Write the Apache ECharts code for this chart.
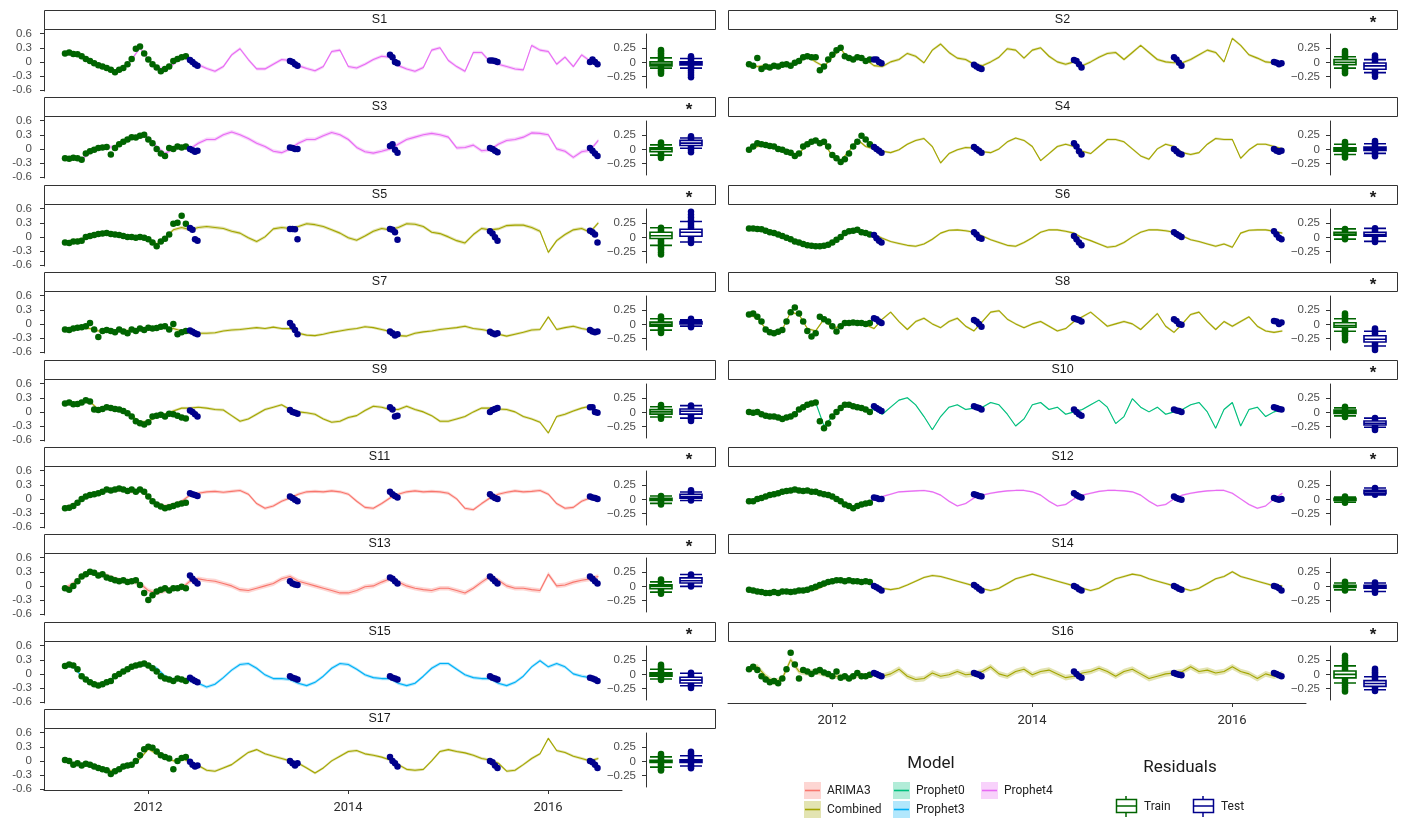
<!DOCTYPE html>
<html>
<head>
<meta charset="utf-8">
<script src="https://cdn.jsdelivr.net/npm/echarts@6/dist/echarts.min.js"></script>
<style>
  html, body { margin: 0; padding: 0; background: #ffffff; }
  #chart { width: 1405px; height: 819px; }
</style>
</head>
<body>
<div id="chart"></div>
<script>
// ---- time grids ------------------------------------------------------------
const FIT_START = 2011.17, FIT_STEP = 1 / 12;     // fitted curves: monthly
const TRAIN_START = 2011.17, TRAIN_STEP = 1 / 24; // training observations
const TEST_WINDOWS = [2012.42, 2013.42, 2014.42, 2015.42, 2016.42];
const TEST_OFFSETS = [0, 0.025, 0.05, 0.075];
const X_TICKS = [2012, 2014, 2016];
const Y_TICKS = [-0.6, -0.3, 0, 0.3, 0.6];
const RES_TICKS = [-0.25, 0, 0.25];

const panelNames = ['S1','S2','S3','S4','S5','S6','S7','S8','S9','S10','S11','S12','S13','S14','S15','S16','S17'];
const panelModels = ['Prophet4','Combined','Prophet4','Combined','Combined','Combined','Combined','Combined','Combined',
  'Prophet0','ARIMA3','Prophet4','ARIMA3','Combined','Prophet3','Combined','Combined'];
const panelStars = [false,true,true,false,true,true,false,true,false,true,true,true,true,false,true,true,false];
const bandHalfWidths = [0.035,0.03,0.04,0.025,0.035,0.025,0.03,0.025,0.03,0.015,0.035,0.02,0.05,0.025,0.035,0.06,0.03];

const modelNames = ['ARIMA3','Combined','Prophet0','Prophet3','Prophet4'];

// ---- fitted values (monthly) ----------------------------------------------
const fitS1 = [0.17,0.16,0.12,0.02,-0.06,-0.12,-0.2,-0.15,0.05,0.3,0.05,-0.12,-0.15,-0.05,0.1,
  0.05,-0.06,-0.14,-0.2,-0.1,0.15,0.28,0.05,-0.15,-0.15,-0.05,0.05,0.03,-0.08,-0.14,
  -0.19,-0.1,0.22,0.25,-0.1,-0.13,-0.05,0.05,0.12,0.1,-0.08,-0.15,-0.2,-0.12,0.25,
  0.3,0.03,-0.1,-0.2,0.2,0.2,0.0,-0.05,-0.1,-0.15,-0.17,0.35,0.25,0.22,-0.05,
  0.1,-0.1,0.15,0.02,-0.05];
const fitS2 = [-0.05,-0.1,-0.08,-0.1,-0.06,-0.05,0.0,0.12,0.0,-0.1,0.1,0.28,0.05,0.08,0.05,
  -0.08,-0.1,0.0,0.05,0.18,0.12,-0.02,0.25,0.38,0.2,0.08,0.05,-0.05,-0.08,0.0,
  0.1,0.28,0.25,0.08,0.25,0.3,0.12,0.0,-0.05,0.0,-0.08,0.0,0.1,0.18,0.2,
  0.05,0.2,0.35,0.2,0.05,0.0,-0.02,-0.02,0.05,0.15,0.25,0.2,0.0,0.5,0.35,
  0.15,0.08,0.0,-0.02,-0.05];
const fitS3 = [-0.2,-0.2,-0.22,-0.08,0.0,0.03,0.05,0.15,0.24,0.28,0.25,0.05,-0.1,0.0,0.03,
  0.0,0.12,0.2,0.2,0.3,0.36,0.3,0.22,0.12,0.05,-0.05,-0.08,0.0,0.12,0.2,
  0.2,0.28,0.35,0.3,0.2,0.03,-0.06,-0.09,-0.05,0.0,0.1,0.2,0.25,0.3,0.33,
  0.3,0.25,0.02,0.03,0.08,-0.04,-0.02,0.1,0.18,0.2,0.25,0.34,0.33,0.3,0.0,
  -0.05,-0.18,-0.06,-0.03,0.18];
const fitS4 = [-0.02,0.05,0.08,0.05,-0.05,-0.12,-0.1,0.1,0.18,0.12,-0.15,-0.25,-0.05,0.2,0.05,
  0.0,-0.05,-0.08,-0.02,0.1,0.18,0.22,0.05,-0.3,-0.1,-0.02,0.03,0.02,-0.06,-0.08,
  0.0,0.15,0.23,0.18,0.05,-0.25,-0.1,0.05,0.1,0.05,-0.05,-0.1,0.05,0.2,0.2,
  0.15,0.0,-0.15,-0.22,0.0,0.1,0.05,-0.08,-0.12,-0.08,0.1,0.22,0.2,0.2,-0.2,
  -0.02,0.1,0.1,0.05,0.0];
const fitS5 = [-0.12,-0.08,-0.05,0.0,0.05,0.08,0.06,0.03,0.0,-0.02,-0.05,-0.15,-0.03,0.15,0.2,
  0.15,0.2,0.22,0.2,0.18,0.12,0.08,-0.02,-0.1,0.0,0.17,0.2,0.18,0.22,0.28,
  0.26,0.22,0.15,0.08,-0.02,-0.07,0.02,0.12,0.18,0.15,0.2,0.28,0.27,0.22,0.1,
  0.07,0.0,-0.08,-0.13,0.05,0.18,0.15,0.17,0.24,0.25,0.25,0.2,0.12,-0.33,-0.08,
  0.05,0.15,0.18,0.1,0.3];
const fitS6 = [0.17,0.16,0.12,0.08,0.02,-0.06,-0.12,-0.17,-0.2,-0.2,-0.15,-0.02,0.1,0.14,0.1,
  0.05,-0.03,-0.1,-0.14,-0.18,-0.2,-0.15,-0.05,0.08,0.14,0.15,0.13,0.1,0.02,-0.06,
  -0.12,-0.18,-0.2,-0.12,-0.02,0.1,0.15,0.15,0.12,0.08,-0.02,-0.08,-0.15,-0.22,-0.2,
  -0.12,0.0,0.1,0.15,0.15,0.13,0.1,0.02,-0.06,-0.1,-0.15,-0.2,-0.15,-0.22,0.08,
  0.14,0.15,0.15,0.12,0.08];
const fitS7 = [-0.12,-0.1,-0.08,-0.1,-0.15,-0.15,-0.14,-0.13,-0.15,-0.12,-0.12,-0.1,-0.08,-0.1,-0.15,
  -0.2,-0.2,-0.2,-0.19,-0.15,-0.13,-0.12,-0.1,-0.08,-0.1,-0.07,-0.1,-0.1,-0.2,-0.24,
  -0.25,-0.22,-0.18,-0.15,-0.12,-0.1,-0.06,-0.08,-0.12,-0.16,-0.25,-0.26,-0.2,-0.17,-0.15,
  -0.12,-0.1,-0.08,-0.05,-0.1,-0.12,-0.15,-0.22,-0.26,-0.22,-0.18,-0.13,-0.12,0.15,-0.12,
  -0.08,-0.05,-0.1,-0.13,-0.15];
const fitS8 = [0.2,0.12,-0.1,-0.18,-0.12,0.25,0.2,-0.1,-0.15,0.1,-0.1,-0.05,0.02,0.0,-0.02,
  -0.1,0.1,0.25,0.05,-0.12,0.05,0.12,0.0,-0.08,0.05,0.12,-0.05,-0.15,0.05,0.25,
  0.28,0.1,0.0,-0.08,0.0,0.05,-0.05,-0.15,-0.1,0.05,0.15,0.25,0.1,-0.05,0.0,
  0.05,0.0,-0.12,0.05,0.22,-0.05,-0.18,0.0,0.2,0.25,0.05,-0.12,0.05,-0.05,0.05,
  0.15,-0.05,-0.15,-0.18,-0.15];
const fitS9 = [0.18,0.17,0.2,0.22,0.05,0.08,0.05,0.03,-0.08,-0.22,-0.2,-0.1,-0.05,0.02,0.08,
  0.08,0.1,0.08,0.05,0.04,-0.08,-0.2,-0.15,-0.05,0.05,0.1,0.15,0.05,0.0,-0.02,
  -0.05,-0.15,-0.22,-0.2,-0.12,-0.08,0.03,0.12,0.1,0.05,0.05,0.12,0.05,0.0,-0.08,
  -0.2,-0.2,-0.15,-0.1,0.0,0.08,0.08,0.06,0.05,0.0,-0.1,-0.15,-0.22,-0.45,-0.1,
  -0.05,0.02,0.08,0.12,-0.05];
const fitS10 = [0.0,-0.02,-0.08,-0.1,-0.15,-0.1,0.05,0.15,0.2,-0.3,-0.1,0.1,0.15,0.08,0.02,
  0.05,-0.05,0.1,0.25,0.3,0.15,-0.1,-0.38,-0.1,0.1,0.15,0.05,0.08,0.1,0.2,
  0.15,-0.05,-0.3,-0.15,0.15,0.2,0.05,0.1,-0.05,0.0,0.05,0.15,0.25,0.1,-0.25,
  -0.1,0.28,0.1,0.0,0.1,-0.05,0.0,0.05,0.15,0.2,0.0,-0.35,0.05,0.2,-0.3,
  0.05,0.1,-0.1,0.0,0.05];
const fitS11 = [-0.18,-0.12,0.0,0.08,0.12,0.18,0.17,0.2,0.15,0.18,0.05,-0.1,-0.15,-0.12,-0.05,
  0.08,0.12,0.15,0.16,0.14,0.16,0.18,0.1,-0.1,-0.2,-0.15,-0.05,0.02,0.1,0.15,
  0.16,0.15,0.17,0.15,0.1,-0.05,-0.18,-0.2,-0.1,0.02,0.1,0.15,0.17,0.15,0.16,
  0.15,0.12,0.0,-0.2,-0.23,-0.1,0.02,0.1,0.14,0.17,0.15,0.16,0.18,0.1,-0.1,
  -0.2,-0.18,-0.05,0.02,0.05];
const fitS12 = [-0.05,0.0,0.05,0.1,0.14,0.16,0.18,0.17,0.15,0.1,0.05,-0.05,-0.15,-0.18,-0.12,
  -0.02,0.05,0.1,0.15,0.16,0.17,0.18,0.15,0.08,-0.05,-0.15,-0.1,0.02,0.08,0.12,
  0.15,0.17,0.18,0.18,0.15,0.08,-0.05,-0.15,-0.12,0.0,0.08,0.12,0.16,0.18,0.18,
  0.17,0.15,0.08,-0.05,-0.15,-0.12,0.0,0.08,0.12,0.15,0.17,0.18,0.18,0.12,0.0,
  -0.12,-0.2,-0.15,0.0,0.12];
const fitS13 = [-0.05,0.05,0.2,0.28,0.25,0.22,0.15,0.1,0.1,0.05,-0.1,-0.15,-0.1,-0.05,-0.05,
  0.1,0.15,0.12,0.1,0.05,0.0,-0.08,-0.1,-0.05,0.0,0.05,0.15,0.2,0.1,0.05,
  0.0,-0.05,-0.1,-0.15,-0.15,-0.1,-0.02,0.0,0.08,0.15,0.08,0.0,-0.05,-0.08,-0.1,
  -0.05,-0.05,-0.1,-0.15,-0.05,0.08,0.2,0.12,0.0,-0.05,-0.05,-0.08,-0.1,0.25,0.0,
  0.02,0.08,0.12,0.15,0.2];
const fitS14 = [-0.1,-0.12,-0.12,-0.15,-0.13,-0.12,-0.12,-0.1,-0.08,0.0,0.08,0.1,0.12,0.1,0.1,
  0.02,-0.05,-0.08,-0.05,0.02,0.1,0.18,0.22,0.2,0.15,0.1,0.05,0.0,-0.06,-0.1,
  -0.05,0.05,0.15,0.2,0.25,0.2,0.15,0.1,0.05,0.0,-0.05,-0.1,-0.05,0.05,0.15,
  0.2,0.25,0.22,0.15,0.1,0.05,0.0,-0.05,-0.1,-0.05,0.05,0.15,0.2,0.3,0.2,
  0.15,0.1,0.05,0.0,0.0];
const fitS15 = [0.17,0.15,-0.05,-0.15,-0.25,-0.2,-0.05,0.05,0.15,0.18,0.2,0.12,-0.05,-0.12,-0.12,
  -0.15,-0.2,-0.28,-0.22,-0.08,0.08,0.2,0.22,0.12,-0.02,-0.1,-0.1,-0.12,-0.2,-0.25,
  -0.18,-0.05,0.12,0.22,0.2,0.1,-0.02,-0.08,-0.1,-0.1,-0.2,-0.25,-0.2,-0.05,0.12,
  0.22,0.22,0.1,-0.02,-0.08,-0.1,-0.1,-0.2,-0.25,-0.18,-0.05,0.15,0.28,0.15,0.22,
  0.15,0.0,-0.05,-0.08,-0.15];
const fitS16 = [0.1,0.15,-0.05,-0.18,-0.1,0.3,0.05,0.02,0.05,0.0,-0.05,-0.05,-0.1,-0.02,-0.05,
  0.0,-0.05,0.0,0.1,-0.05,-0.12,-0.1,0.02,-0.05,-0.02,0.05,-0.02,0.0,0.05,0.15,
  0.0,-0.05,0.05,0.1,-0.02,0.05,0.08,0.0,-0.08,-0.05,0.02,0.05,0.12,0.05,-0.05,
  0.05,0.1,0.0,-0.1,-0.05,0.0,0.02,0.05,0.15,0.05,0.08,0.02,0.05,0.15,0.05,
  0.0,-0.1,0.0,-0.05,0.0];
const fitS17 = [0.0,-0.05,-0.08,-0.08,-0.12,-0.2,-0.22,-0.15,-0.1,0.05,0.25,0.15,0.1,0.0,0.05,
  -0.02,-0.1,-0.2,-0.22,-0.15,-0.08,0.05,0.18,0.24,0.15,0.1,0.05,0.0,-0.05,-0.15,
  -0.26,-0.15,0.0,0.1,0.2,0.22,0.15,0.12,0.08,0.02,-0.08,-0.18,-0.2,-0.18,0.0,
  0.2,0.24,0.2,0.17,0.12,0.05,0.02,-0.05,-0.22,-0.2,-0.08,0.05,0.15,0.48,0.22,
  0.18,0.1,0.05,0.0,0.05];

// ---- training observations --------------------------------------------------
const trainS1 = [0.18,0.2,0.17,0.16,0.12,0.06,0.02,-0.03,-0.07,-0.1,-0.13,-0.17,-0.22,-0.17,-0.13,-0.05,0.06,0.28,0.33,0.18,0.05,-0.05,-0.12,-0.2,-0.15,-0.1,0.02,0.06,0.1,0.12];
const trainS2 = [-0.05,-0.08,0.08,-0.15,-0.1,-0.12,-0.08,-0.1,-0.06,-0.05,-0.08,-0.02,0.02,0.1,0.12,0.1,0.1,-0.18,-0.1,0.05,0.15,0.25,0.3,0.12,0.08,0.05,0.1,0.08,0.02,0.05];
const trainS3 = [-0.2,-0.21,-0.19,-0.2,-0.23,-0.1,-0.05,-0.02,0.02,0.03,0.04,-0.12,0.02,0.1,0.15,0.2,0.25,0.24,0.28,0.3,0.2,0.12,0.0,-0.1,-0.15,0.02,0.0,0.05,0.03,0.05];
const trainS4 = [-0.02,0.05,0.12,0.1,0.08,0.06,0.05,0.0,-0.02,-0.06,-0.08,-0.15,-0.1,0.05,0.1,0.15,0.18,0.12,0.15,0.05,-0.13,-0.2,-0.28,-0.22,-0.1,0.05,0.15,0.28,0.2,0.1];
const trainS5 = [-0.12,-0.13,-0.1,-0.1,-0.08,0.0,0.02,0.04,0.06,0.07,0.08,0.06,0.05,0.04,0.02,0.0,0.0,-0.02,0.0,-0.02,-0.05,-0.12,-0.2,-0.1,-0.04,0.05,0.28,0.3,0.45,0.28];
const trainS6 = [0.18,0.18,0.17,0.16,0.13,0.1,0.08,0.05,0.02,-0.02,-0.05,-0.1,-0.12,-0.15,-0.18,-0.19,-0.2,-0.2,-0.19,-0.17,-0.12,-0.06,0.0,0.08,0.12,0.13,0.15,0.1,0.08,0.05];
const trainS7 = [-0.12,-0.13,-0.1,-0.08,-0.07,-0.05,0.02,-0.12,-0.28,-0.15,-0.13,-0.15,-0.18,-0.12,-0.16,-0.2,-0.12,-0.15,-0.1,-0.13,-0.08,-0.1,-0.09,-0.06,-0.05,-0.12,0.0,-0.22,-0.18,-0.15];
const trainS8 = [0.2,0.22,0.15,0.05,-0.12,-0.18,-0.2,-0.17,-0.13,0.05,0.25,0.35,0.22,0.05,-0.15,-0.27,-0.2,0.15,0.1,0.05,-0.05,-0.16,-0.05,0.02,0.02,0.03,0.02,0.02,0.0,0.02];
const trainS9 = [0.18,0.2,0.16,0.17,0.2,0.25,0.22,0.05,0.04,0.06,0.1,0.08,0.06,0.05,0.02,-0.03,-0.1,-0.2,-0.24,-0.27,-0.22,-0.1,-0.08,-0.06,-0.1,-0.04,-0.05,-0.08,-0.12,-0.14];
const trainS10 = [0.0,-0.02,0.0,-0.05,-0.08,-0.1,-0.1,-0.12,-0.15,-0.12,-0.1,-0.05,0.05,0.1,0.15,0.18,0.2,-0.2,-0.35,-0.25,-0.1,0.0,0.08,0.15,0.15,0.12,0.1,0.08,0.05,0.0];
const trainS11 = [-0.2,-0.19,-0.15,-0.08,0.0,0.05,0.08,0.1,0.12,0.15,0.2,0.18,0.2,0.22,0.2,0.17,0.2,0.15,0.2,0.15,0.05,-0.05,-0.12,-0.16,-0.2,-0.18,-0.15,-0.12,-0.1,-0.08];
const trainS12 = [-0.05,-0.05,0.0,0.02,0.05,0.08,0.1,0.12,0.15,0.17,0.18,0.2,0.18,0.17,0.18,0.15,0.15,0.12,0.1,0.08,0.05,0.0,-0.05,-0.12,-0.15,-0.2,-0.15,-0.12,-0.1,-0.08];
const trainS13 = [-0.05,-0.08,0.0,0.1,0.2,0.25,0.3,0.28,0.22,0.25,0.18,0.15,0.12,0.1,0.12,0.08,0.1,0.12,0.02,-0.15,-0.3,-0.2,-0.12,-0.08,-0.05,-0.1,-0.05,-0.05,-0.02,-0.05];
const trainS14 = [-0.08,-0.1,-0.12,-0.13,-0.15,-0.15,-0.13,-0.15,-0.12,-0.12,-0.13,-0.12,-0.1,-0.1,-0.08,-0.05,-0.02,0.02,0.05,0.08,0.1,0.12,0.12,0.1,0.12,0.1,0.1,0.08,0.1,0.08];
const trainS15 = [0.17,0.2,0.18,0.1,-0.05,-0.12,-0.18,-0.22,-0.25,-0.22,-0.18,-0.15,-0.05,0.0,0.05,0.1,0.15,0.18,0.2,0.22,0.18,0.12,0.05,-0.05,-0.1,-0.12,-0.15,-0.1,-0.12,-0.15];
const trainS16 = [0.1,0.15,0.08,-0.05,-0.12,-0.18,-0.15,-0.2,-0.1,0.1,0.45,0.2,-0.1,0.08,0.05,0.0,0.05,0.08,0.03,0.0,-0.05,0.05,-0.08,-0.05,-0.1,-0.05,0.02,-0.05,-0.05,-0.02];
const trainS17 = [0.02,0.0,-0.08,-0.05,-0.1,-0.06,-0.08,-0.12,-0.15,-0.18,-0.2,-0.28,-0.22,-0.18,-0.12,-0.1,-0.08,0.0,0.12,0.25,0.3,0.28,0.2,0.12,0.08,0.05,-0.18,0.0,0.06,0.08];

// ---- test observations (four per window) ------------------------------------
const testS1 = [0.04,0.0,-0.05,-0.08, 0.02,0.0,-0.05,-0.08, 0.15,0.1,0.0,-0.03, 0.03,0.03,0.02,0.0, 0.0,0.05,0.0,-0.05];
const testS2 = [0.05,0.05,0.0,-0.03, -0.06,-0.1,-0.13,-0.15, 0.04,0.02,-0.05,-0.12, 0.1,0.05,-0.02,-0.08, 0.0,-0.02,-0.05,-0.03];
const testS3 = [0.0,-0.03,-0.06,-0.04, 0.03,0.02,0.0,0.0, 0.06,0.1,-0.02,-0.08, 0.02,0.0,-0.04,-0.07, 0.02,-0.04,-0.1,-0.15];
const testS4 = [0.04,0.0,-0.04,-0.08, 0.04,0.0,-0.04,-0.08, 0.12,0.05,-0.05,-0.12, 0.0,-0.05,-0.1,-0.12, 0.0,-0.04,-0.06,-0.04];
const testS5 = [0.19,0.15,-0.05,-0.08, 0.17,0.17,0.16,-0.05, 0.17,0.15,0.1,-0.06, 0.12,0.07,-0.01,-0.08, 0.13,0.1,0.05,-0.12];
const testS6 = [0.04,-0.03,-0.08,-0.12, 0.1,0.05,-0.02,-0.04, 0.02,-0.05,-0.12,-0.18, 0.1,0.06,0.03,0.0, 0.12,0.05,-0.02,-0.05];
const testS7 = [-0.14,-0.17,-0.2,-0.22, 0.02,-0.05,-0.13,-0.22, -0.16,-0.2,-0.25,-0.22, -0.17,-0.2,-0.22,-0.2, -0.13,-0.16,-0.18,-0.16];
const testS8 = [0.12,0.1,0.05,0.02, 0.08,0.05,0.0,-0.06, 0.12,0.1,0.08,0.05, 0.1,0.06,0.0,-0.02, 0.06,0.05,0.0,0.03];
const testS9 = [0.03,0.0,-0.05,-0.1, 0.04,0.0,-0.02,-0.04, 0.1,0.05,-0.1,-0.08, 0.0,0.04,0.06,0.08, 0.1,0.1,0.0,-0.02];
const testS10 = [0.12,0.08,0.05,0.02, 0.12,0.1,0.08,0.05, 0.05,0.0,-0.05,-0.08, 0.05,0.03,0.02,0.0, 0.1,0.08,0.06,0.05];
const testS11 = [0.12,0.1,0.08,0.06, 0.05,0.02,-0.02,-0.05, 0.15,0.1,0.06,0.03, 0.1,0.05,0.02,0.0, 0.05,0.03,0.02,0.0];
const testS12 = [0.03,0.02,0.0,0.0, 0.1,0.08,0.06,0.05, 0.12,0.08,0.05,0.03, 0.05,0.02,0.0,-0.02, 0.02,0.0,-0.02,0.0];
const testS13 = [0.22,0.15,0.1,0.05, 0.1,0.05,0.03,0.02, 0.18,0.15,0.1,0.05, 0.2,0.15,0.1,0.05, 0.2,0.15,0.1,0.05];
const testS14 = [0.0,-0.03,-0.06,-0.1, 0.02,-0.02,-0.06,-0.1, 0.0,-0.03,-0.07,-0.1, 0.0,-0.03,-0.06,-0.08, 0.0,-0.02,-0.05,-0.1];
const testS15 = [-0.08,-0.12,-0.15,-0.18, -0.05,-0.08,-0.1,-0.12, -0.05,-0.08,-0.1,-0.12, -0.05,-0.08,-0.1,-0.12, -0.08,-0.1,-0.12,-0.15];
const testS16 = [0.02,0.0,-0.03,-0.05, 0.02,0.0,-0.02,-0.05, 0.05,0.0,-0.05,-0.08, 0.02,0.0,-0.02,-0.03, 0.02,0.0,-0.03,-0.05];
const testS17 = [-0.02,-0.08,-0.12,-0.1, 0.0,-0.05,-0.1,-0.05, 0.08,0.0,-0.05,-0.12, 0.0,-0.03,-0.1,-0.15, 0.0,-0.03,-0.08,-0.15];

// ---- residual summaries: [lower whisker, Q1, median, Q3, upper whisker] -----
const trainBoxes = [
  [-0.1,-0.06,-0.03,0.01,0.08], [-0.1,-0.04,0.0,0.05,0.1], [-0.1,-0.04,0.0,0.03,0.08],
  [-0.09,-0.03,0.0,0.03,0.09], [-0.14,-0.02,0.03,0.09,0.17], [-0.03,0.04,0.06,0.09,0.15],
  [-0.1,-0.03,0.0,0.04,0.1], [-0.12,-0.05,-0.02,0.03,0.1], [-0.08,-0.03,0.01,0.05,0.1],
  [-0.06,-0.02,0.01,0.04,0.08], [-0.07,-0.02,0.0,0.02,0.06], [-0.05,-0.02,0.0,0.02,0.04],
  [-0.1,-0.04,0.0,0.03,0.08], [-0.06,-0.02,0.0,0.02,0.06], [-0.08,-0.03,0.0,0.03,0.09],
  [-0.15,-0.06,0.0,0.06,0.15], [-0.1,-0.02,0.0,0.02,0.08]
];
const testBoxes = [
  [-0.1,-0.045,-0.02,0.01,0.07], [-0.18,-0.12,-0.06,-0.01,0.05], [0.02,0.07,0.11,0.16,0.2],
  [-0.07,-0.02,0.01,0.04,0.1], [-0.08,0.02,0.09,0.145,0.28], [-0.07,0.02,0.05,0.09,0.16],
  [-0.03,0.01,0.03,0.05,0.08], [-0.38,-0.31,-0.26,-0.2,-0.12], [-0.1,-0.03,0.02,0.06,0.12],
  [-0.26,-0.22,-0.19,-0.15,-0.1], [-0.02,0.02,0.05,0.09,0.13], [0.08,0.1,0.13,0.16,0.2],
  [0.0,0.06,0.1,0.15,0.21], [-0.09,-0.03,0.0,0.02,0.06], [-0.2,-0.15,-0.1,-0.05,0.02],
  [-0.27,-0.21,-0.16,-0.11,-0.04], [-0.08,-0.02,0.0,0.03,0.1]
];

// ---- individual residual points --------------------------------------------
const trainResiduals = [
  [0.22,0.19,0.16,0.13,0.1,0.07,0.04,0.01,-0.02,-0.05,-0.08,-0.11,-0.14,-0.17,-0.2],
  [0.2,0.17,0.14,0.11,0.08,0.05,0.02,-0.01,-0.04,-0.07,-0.1,-0.13,-0.16,-0.19],
  [0.12,0.09,0.06,0.03,0.0,-0.03,-0.06,-0.09,-0.12,-0.15],
  [0.13,0.1,0.07,0.04,0.01,-0.02,-0.05,-0.08,-0.11,-0.14],
  [0.17,0.14,0.11,0.08,0.05,0.02,-0.01,-0.04,-0.07,-0.1,-0.13,-0.16,-0.19,-0.22,-0.26,-0.3],
  [0.15,0.12,0.09,0.06,0.03,0.0,-0.03],
  [0.14,0.11,0.08,0.05,0.02,-0.01,-0.04,-0.07,-0.1,-0.13,-0.15],
  [0.19,0.16,0.13,0.1,0.07,0.04,0.01,-0.02,-0.05,-0.08,-0.11,-0.14,-0.17,-0.2,-0.24,-0.28],
  [0.13,0.1,0.07,0.04,0.01,-0.02,-0.05,-0.08,-0.11],
  [0.1,0.07,0.04,0.01,-0.02,-0.05,-0.08],
  [0.06,0.03,0.0,-0.03,-0.06,-0.09],
  [0.05,0.02,-0.01,-0.04,-0.06],
  [0.12,0.09,0.06,0.03,0.0,-0.03,-0.06,-0.09,-0.13],
  [0.08,0.05,0.02,-0.01,-0.04,-0.07],
  [0.17,0.14,0.11,0.08,0.05,0.02,-0.01,-0.04,-0.07,-0.1],
  [0.33,0.29,0.25,0.21,0.17,0.13,0.09,0.05,0.01,-0.03,-0.07,-0.11,-0.15,-0.19,-0.23,-0.27,-0.3],
  [0.13,0.1,0.07,0.04,0.01,-0.02,-0.05,-0.08,-0.11,-0.14,-0.16]
];
const testResiduals = [
  [0.11,0.08,0.05,0.02,-0.01,-0.04,-0.07,-0.1,-0.14,-0.18,-0.22,-0.26],
  [0.12,0.09,0.06,0.03,0.0,-0.03,-0.06,-0.09,-0.12,-0.15,-0.18,-0.21,-0.25],
  [0.23,0.2,0.17,0.14,0.11,0.08,0.05,0.02,-0.01,-0.05],
  [0.15,0.12,0.09,0.06,0.03,0.0,-0.03,-0.06,-0.09,-0.12],
  [0.45,0.4,0.35,0.3,0.26,0.22,0.18,0.14,0.1,0.06,0.02,-0.02,-0.06,-0.1],
  [0.16,0.13,0.1,0.07,0.04,0.01,-0.02,-0.05,-0.08],
  [0.1,0.07,0.04,0.01,-0.02,-0.05],
  [-0.07,-0.1,-0.13,-0.16,-0.19,-0.22,-0.25,-0.28,-0.31,-0.34,-0.37,-0.41,-0.45],
  [0.12,0.09,0.06,0.03,0.0,-0.03,-0.06,-0.09,-0.12,-0.15],
  [-0.1,-0.13,-0.16,-0.19,-0.22,-0.25,-0.28,-0.31],
  [0.16,0.13,0.1,0.07,0.04,0.01,-0.02],
  [0.2,0.17,0.14,0.11,0.08],
  [0.21,0.18,0.15,0.12,0.09,0.06,0.03,0.0],
  [0.07,0.04,0.01,-0.02,-0.05,-0.08,-0.11],
  [0.03,0.0,-0.03,-0.06,-0.09,-0.12,-0.15,-0.18,-0.21,-0.24],
  [0.1,0.07,0.04,0.01,-0.02,-0.05,-0.08,-0.11,-0.14,-0.17,-0.2,-0.23,-0.26,-0.29],
  [0.17,0.14,0.11,0.08,0.05,0.02,-0.01,-0.04,-0.07,-0.1,-0.12]
];

const fits = [fitS1,fitS2,fitS3,fitS4,fitS5,fitS6,fitS7,fitS8,fitS9,fitS10,fitS11,fitS12,fitS13,fitS14,fitS15,fitS16,fitS17];
const trains = [trainS1,trainS2,trainS3,trainS4,trainS5,trainS6,trainS7,trainS8,trainS9,trainS10,trainS11,trainS12,trainS13,trainS14,trainS15,trainS16,trainS17];
const tests = [testS1,testS2,testS3,testS4,testS5,testS6,testS7,testS8,testS9,testS10,testS11,testS12,testS13,testS14,testS15,testS16,testS17];

// ---- styling ----------------------------------------------------------------
const MODEL_COLORS = { ARIMA3: '#F8766D', Combined: '#A3A500', Prophet0: '#00BF7D', Prophet3: '#00B0F6', Prophet4: '#E76BF3' };
const TRAIN_COLOR = '#006400';
const TEST_COLOR = '#00008B';
const INK = '#333333';
const TICK_FONT = '"Liberation Sans", Arial, sans-serif';
const LEGEND_FONT = 'Roboto, "Liberation Sans", sans-serif';

const X_MIN = 2010.96, X_MAX = 2016.74;
const MAIN_W = 578, MAIN_H = 62;
const ROW_TOP = 10, ROW_STEP = 87.375;

function minusSign(v) {
  return v < 0 ? '\u2212' + String(-v) : String(v);
}

// ribbon drawn as a polygon in data coordinates
function makeBand(points, half, color) {
  const fill = echarts.color.modifyAlpha(color, 0.3);
  return function (params, api) {
    if (params.dataIndex !== 0) return null;
    const upper = [], lower = [];
    for (let i = 0; i < points.length; i++) {
      upper.push(api.coord([points[i][0], points[i][1] + half]));
      lower.push(api.coord([points[i][0], points[i][1] - half]));
    }
    return {
      type: 'polygon',
      shape: { points: upper.concat(lower.reverse()) },
      style: { fill: fill },
      silent: true
    };
  };
}

const grid = [], xAxis = [], yAxis = [], series = [], graphic = [];

for (let p = 0; p < panelNames.length; p++) {
  const col = p % 2;
  const row = Math.floor(p / 2);
  const top = Math.round(ROW_TOP + ROW_STEP * row);
  const stripX = col ? 728 : 44;
  const stripW = col ? 669 : 671;
  const boxLeft = stripX + 602;
  const color = MODEL_COLORS[panelModels[p]];
  const isBottom = (p === 15 || p === 16);
  const mi = 2 * p, bi = 2 * p + 1;

  grid.push({ left: stripX, top: top + 19, width: MAIN_W, height: MAIN_H, outerBoundsMode: 'none' });
  grid.push({ left: boxLeft, top: top + 24, width: 60, height: 54, outerBoundsMode: 'none' });

  xAxis.push({
    gridIndex: mi, type: 'value', min: X_MIN, max: X_MAX,
    splitLine: { show: false },
    axisLine: { show: isBottom, onZero: false, lineStyle: { color: INK, width: 1 } },
    axisTick: { show: isBottom, customValues: X_TICKS, length: 4, lineStyle: { color: INK } },
    axisLabel: { show: isBottom, customValues: X_TICKS, margin: 11, fontSize: 13, color: '#2b2b2b',
                 fontFamily: LEGEND_FONT, formatter: v => String(Math.round(v)) }
  });
  xAxis.push({
    gridIndex: bi, type: 'category', data: ['Train', 'Test'], boundaryGap: true,
    axisLine: { show: false }, axisTick: { show: false }, axisLabel: { show: false }, splitLine: { show: false }
  });

  yAxis.push({
    gridIndex: mi, type: 'value', min: -0.62, max: 0.70,
    splitLine: { show: false },
    axisLine: { show: col === 0, onZero: false, lineStyle: { color: INK, width: 1 } },
    axisTick: { show: col === 0, customValues: Y_TICKS, length: 4, lineStyle: { color: INK } },
    axisLabel: { show: col === 0, customValues: Y_TICKS, margin: 12, fontSize: 11.5, color: '#4d4d4d',
                 fontFamily: TICK_FONT, formatter: v => String(v) }
  });
  yAxis.push({
    gridIndex: bi, type: 'value', min: -0.45, max: 0.5,
    splitLine: { show: false },
    axisLine: { show: true, onZero: false, lineStyle: { color: INK, width: 1 } },
    axisTick: { show: true, customValues: RES_TICKS, length: 4, lineStyle: { color: INK } },
    axisLabel: { show: true, customValues: RES_TICKS, margin: 10, fontSize: 11.5, color: '#4d4d4d',
                 fontFamily: TICK_FONT, formatter: minusSign }
  });

  const fitPoints = fits[p].map((v, i) => [FIT_START + i * FIT_STEP, v]);
  const trainPoints = trains[p].map((v, i) => [TRAIN_START + i * TRAIN_STEP, v]);
  const testPoints = tests[p].map((v, i) => [
    TEST_WINDOWS[Math.floor(i / TEST_OFFSETS.length)] + TEST_OFFSETS[i % TEST_OFFSETS.length], v]);

  series.push({
    type: 'custom', xAxisIndex: mi, yAxisIndex: mi, data: [fitPoints[0]],
    renderItem: makeBand(fitPoints, bandHalfWidths[p], color), silent: true, z: 1
  });
  series.push({
    type: 'line', xAxisIndex: mi, yAxisIndex: mi, data: fitPoints,
    showSymbol: false, symbol: 'none', silent: true, z: 2,
    lineStyle: { color: color, width: 1.1 }, itemStyle: { color: color }
  });
  series.push({
    type: 'scatter', xAxisIndex: mi, yAxisIndex: mi, data: trainPoints, silent: true, z: 3,
    symbolSize: 6.5, itemStyle: { color: TRAIN_COLOR, opacity: 1 }
  });
  series.push({
    type: 'scatter', xAxisIndex: mi, yAxisIndex: mi, data: testPoints, silent: true, z: 3,
    symbolSize: 6.5, itemStyle: { color: TEST_COLOR, opacity: 1 }
  });
  series.push({
    type: 'scatter', xAxisIndex: bi, yAxisIndex: bi, data: trainResiduals[p].map(v => [0, v]),
    silent: true, z: 3, symbolSize: 6.5, itemStyle: { color: TRAIN_COLOR, opacity: 1 }
  });
  series.push({
    type: 'scatter', xAxisIndex: bi, yAxisIndex: bi, data: testResiduals[p].map(v => [1, v]),
    silent: true, z: 3, symbolSize: 6.5, itemStyle: { color: TEST_COLOR, opacity: 1 }
  });
  series.push({
    type: 'boxplot', xAxisIndex: bi, yAxisIndex: bi, boxWidth: [22, 22], silent: true, z: 4,
    itemStyle: { color: '#ffffff', borderWidth: 1.6 },
    data: [
      { value: trainBoxes[p], itemStyle: { color: '#ffffff', borderColor: TRAIN_COLOR, borderWidth: 1.6 } },
      { value: testBoxes[p], itemStyle: { color: '#ffffff', borderColor: TEST_COLOR, borderWidth: 1.6 } }
    ]
  });

  // facet strip
  graphic.push({
    type: 'rect', silent: true, z: 10,
    shape: { x: stripX + 0.5, y: top + 0.5, width: stripW, height: 19 },
    style: { fill: '#ffffff', stroke: '#333333', lineWidth: 1 }
  });
  graphic.push({
    type: 'text', silent: true, z: 11,
    style: { text: panelNames[p], x: stripX + stripW / 2, y: top + 10,
             textAlign: 'center', textVerticalAlign: 'middle', align: 'center', verticalAlign: 'middle',
             font: '12.5px ' + TICK_FONT, fill: '#1a1a1a' }
  });
  if (panelStars[p]) {
    graphic.push({
      type: 'text', silent: true, z: 11,
      style: { text: '*', x: stripX + 645, y: top + 13,
               textAlign: 'center', textVerticalAlign: 'middle', align: 'center', verticalAlign: 'middle',
               font: 'bold 17px ' + TICK_FONT, fill: '#1a1a1a' }
    });
  }
}

// ---- legends ------------------------------------------------------------------
graphic.push({
  type: 'text', silent: true,
  style: { text: 'Model', x: 931, y: 764, textAlign: 'center', textVerticalAlign: 'middle',
           align: 'center', verticalAlign: 'middle', font: '17px ' + LEGEND_FONT, fill: '#1a1a1a' }
});
const legendSlots = [[804, 782], [804, 801], [893, 782], [893, 801], [981, 782]];
modelNames.forEach((name, i) => {
  const c = MODEL_COLORS[name];
  const sx = legendSlots[i][0], sy = legendSlots[i][1];
  graphic.push({ type: 'rect', silent: true, shape: { x: sx, y: sy, width: 17, height: 17 },
                 style: { fill: echarts.color.modifyAlpha(c, 0.3) } });
  graphic.push({ type: 'line', silent: true, shape: { x1: sx + 1, y1: sy + 8.5, x2: sx + 16, y2: sy + 8.5 },
                 style: { stroke: c, lineWidth: 1.6 } });
  graphic.push({ type: 'text', silent: true,
                 style: { text: name, x: sx + 23, y: sy + 9, textVerticalAlign: 'middle', verticalAlign: 'middle',
                          font: '12px ' + LEGEND_FONT, fill: '#222222' } });
});

graphic.push({
  type: 'text', silent: true,
  style: { text: 'Residuals', x: 1180, y: 768, textAlign: 'center', textVerticalAlign: 'middle',
           align: 'center', verticalAlign: 'middle', font: '17px ' + LEGEND_FONT, fill: '#1a1a1a' }
});
[['Train', TRAIN_COLOR, 1116], ['Test', TEST_COLOR, 1193]].forEach(([label, c, x]) => {
  graphic.push({ type: 'line', silent: true, shape: { x1: x + 10, y1: 796, x2: x + 10, y2: 817 },
                 style: { stroke: c, lineWidth: 1.5 } });
  graphic.push({ type: 'rect', silent: true, shape: { x: x + 0.5, y: 799.5, width: 20, height: 13 },
                 style: { fill: '#ffffff', stroke: c, lineWidth: 1.5 } });
  graphic.push({ type: 'line', silent: true, shape: { x1: x + 0.5, y1: 806, x2: x + 20.5, y2: 806 },
                 style: { stroke: c, lineWidth: 1.5 } });
  graphic.push({ type: 'text', silent: true,
                 style: { text: label, x: x + 28, y: 807, textVerticalAlign: 'middle', verticalAlign: 'middle',
                          font: '12px ' + LEGEND_FONT, fill: '#222222' } });
});

const chart = echarts.init(document.getElementById('chart'), null, { renderer: 'canvas' });
chart.setOption({
  backgroundColor: '#ffffff',
  animation: false,
  grid: grid,
  xAxis: xAxis,
  yAxis: yAxis,
  series: series,
  graphic: graphic
});
</script>
</body>
</html>
